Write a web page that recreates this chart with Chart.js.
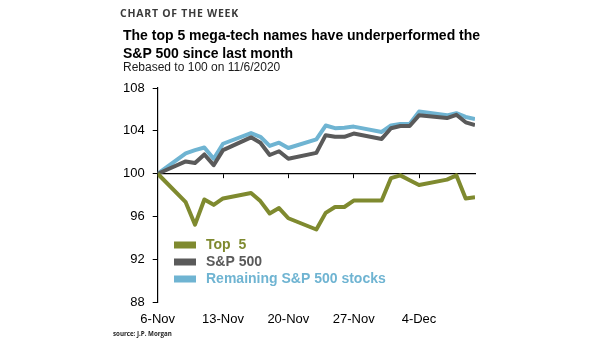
<!DOCTYPE html>
<html>
<head>
<meta charset="utf-8">
<script src="https://cdn.jsdelivr.net/npm/chart.js@4/dist/chart.umd.min.js"></script>
<style>
  html, body { margin: 0; padding: 0; background: #fff; }
  #wrap { position: relative; width: 605px; height: 341px; overflow: hidden; }
  #chart { position: absolute; left: 0; top: 0; }
  .txt { position: absolute; white-space: nowrap; }
  #kicker { left: 120px; top: 6.5px; font: bold 10.5px/12px "Open Sans", sans-serif; color: #3a3a3a; letter-spacing: 0.75px; }
  #title { left: 123px; top: 25.6px; font: bold 14px/18px "Liberation Sans", Arial, sans-serif; color: #000; }
  #subtitle { left: 123px; top: 60px; font: 12px/14px "Liberation Sans", Arial, sans-serif; color: #1a1a1a; }
  #source { left: 113px; top: 330px; font: bold 6.2px/8px "Open Sans", sans-serif; color: #222; }
</style>
</head>
<body>
<div id="wrap">
  <canvas id="chart" width="605" height="341"></canvas>
  <div class="txt" id="kicker">CHART OF THE WEEK</div>
  <div class="txt" id="title">The top 5 mega-tech names have underperformed the<br>S&amp;P 500 since last month</div>
  <div class="txt" id="subtitle">Rebased to 100 on 11/6/2020</div>
  <div class="txt" id="source">source: J.P. Morgan</div>
</div>
<script>
// Trading days, 6 Nov - 10 Dec 2020 (26 Nov carried forward)
const tradingDates = [
  '2020-11-06', '2020-11-09', '2020-11-10', '2020-11-11', '2020-11-12', '2020-11-13',
  '2020-11-16', '2020-11-17', '2020-11-18', '2020-11-19', '2020-11-20',
  '2020-11-23', '2020-11-24', '2020-11-25', '2020-11-26', '2020-11-27',
  '2020-11-30', '2020-12-01', '2020-12-02', '2020-12-03', '2020-12-04',
  '2020-12-07', '2020-12-08', '2020-12-09', '2020-12-10'
];

// Rebased performance (11/6/2020 = 100)
const top5 = [
  100, 97.35, 95.25, 97.6, 97.1, 97.7,
  98.2, 97.45, 96.3, 96.8, 95.85,
  94.8, 96.35, 96.9, 96.9, 97.5,
  97.5, 99.6, 99.85, 99.4, 98.95,
  99.45, 99.85, 97.7, 97.8
];
const sp500 = [
  100, 101.15, 101.0, 101.8, 100.8, 102.2,
  103.4, 102.9, 101.75, 102.1, 101.4,
  101.95, 103.6, 103.45, 103.45, 103.75,
  103.25, 104.25, 104.45, 104.45, 105.45,
  105.2, 105.5, 104.8, 104.55
];
const remaining = [
  100, 101.9, 102.2, 102.45, 101.4, 102.8,
  103.8, 103.45, 102.6, 102.9, 102.4,
  103.2, 104.5, 104.25, 104.3, 104.4,
  103.9, 104.5, 104.65, 104.65, 105.8,
  105.45, 105.65, 105.3, 105.1
];

// Weekly date ticks
const tickDates = ['2020-11-06', '2020-11-13', '2020-11-20', '2020-11-27', '2020-12-04'];
const tickLabels = ['6-Nov', '13-Nov', '20-Nov', '27-Nov', '4-Dec'];

const seriesNames = ['Top  5', 'S&P 500', 'Remaining S&P 500 stocks'];
const seriesColors = ['#7f8a2f', '#5a5a5a', '#6fb4d2'];

const DAY = 86400000;
const t0 = Date.parse(tradingDates[0]);
const dayOf = d => Math.round((Date.parse(d) - t0) / DAY);
const xDays = tradingDates.map(dayOf);
const tickDays = tickDates.map(dayOf);
const lastDay = xDays[xDays.length - 1];

const toPoints = vals => vals.map((v, i) => ({ x: xDays[i], y: v }));

const tickFont = { family: "'Liberation Sans', Arial, sans-serif", size: 13 };

// Legend drawn inside the plot area, lower left
const insideLegend = {
  id: 'insideLegend',
  afterDatasetsDraw(chart) {
    const ctx = chart.ctx;
    const rows = [245, 262, 279];
    ctx.save();
    ctx.font = "bold 14px 'Liberation Sans', Arial, sans-serif";
    ctx.textBaseline = 'middle';
    chart.data.datasets.forEach((ds, i) => {
      const cy = rows[i];
      ctx.fillStyle = ds.borderColor;
      ctx.fillRect(174, cy - 3.5, 22, 7);
      ctx.fillText(ds.label, 206, cy + 0.5);
    });
    ctx.restore();
  }
};

const datasets = [top5, sp500, remaining].map((vals, i) => ({
  label: seriesNames[i],
  data: toPoints(vals),
  borderColor: seriesColors[i],
  backgroundColor: seriesColors[i],
  borderWidth: 4,
  pointRadius: 0,
  tension: 0,
  fill: false,
  borderJoinStyle: 'round',
  xAxisID: 'x',
  yAxisID: 'y'
}));

new Chart(document.getElementById('chart'), {
  type: 'line',
  data: { datasets },
  options: {
    responsive: false,
    animation: false,
    devicePixelRatio: 1,
    layout: { padding: { left: 115, top: 88, right: 130, bottom: 5 } },
    plugins: { legend: { display: false }, tooltip: { enabled: false } },
    scales: {
      x: {
        type: 'linear',
        position: { y: 100 },
        min: 0,
        max: lastDay,
        afterBuildTicks: s => { s.ticks = tickDays.map(v => ({ value: v })); },
        ticks: { display: false },
        grid: { drawOnChartArea: false, drawTicks: true, tickLength: 4, color: '#000', lineWidth: 1 },
        border: { display: true, color: '#000', width: 1.2 }
      },
      x2: {
        type: 'linear',
        position: 'bottom',
        min: 0,
        max: lastDay,
        afterBuildTicks: s => { s.ticks = tickDays.map(v => ({ value: v })); },
        ticks: {
          font: tickFont,
          color: '#000',
          padding: 9,
          maxRotation: 0,
          autoSkip: false,
          callback: v => tickLabels[tickDays.indexOf(v)]
        },
        grid: { display: false, drawTicks: false },
        border: { display: false }
      },
      y: {
        type: 'linear',
        position: 'left',
        min: 88,
        max: 108,
        ticks: { stepSize: 4, font: tickFont, color: '#000', padding: 8 },
        grid: { drawOnChartArea: false, drawTicks: true, tickLength: 5, color: '#000', lineWidth: 1 },
        border: { display: true, color: '#000', width: 1.2 }
      }
    }
  },
  plugins: [insideLegend]
});
</script>
</body>
</html>
